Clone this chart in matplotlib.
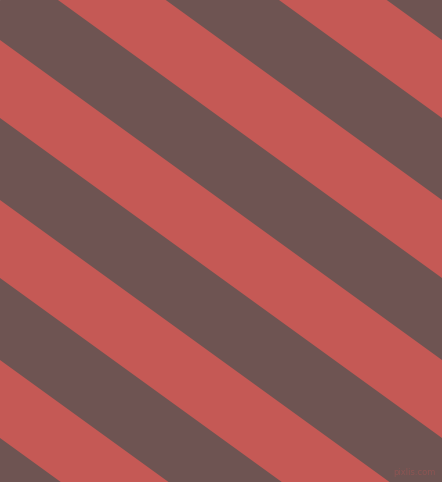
import numpy as np
import matplotlib
matplotlib.use("Agg")
import matplotlib.pyplot as plt

# stripe pattern, pixel coordinates (y down)
W = 442
H = 482
slope = 0.724            # dy/dx of the stripe edges
period = 160             # vertical repeat
red_start = [-280, -120, 40, 200, 360, 520]   # y at x=0 where each red band starts
red_width = 78                                 # vertical width of a red band
bg_color = '#6e5452'
stripe_color = '#c55955'

fig = plt.figure(figsize=(W / 100, H / 100), dpi=100)
ax = fig.add_axes([0, 0, 1, 1])
ax.set_xlim(0, W)
ax.set_ylim(H, 0)
ax.axis('off')
ax.add_patch(plt.Rectangle((0, 0), W, H, color=bg_color, zorder=0))

xs = np.array([-10, W + 10])
for c in red_start:
    top = c + slope * xs
    bot = c + red_width + slope * xs
    ax.fill(np.r_[xs, xs[::-1]], np.r_[top, bot[::-1]], color=stripe_color, lw=0, zorder=1)

ax.text(436, 477, 'pixlis.com', fontsize=6, color='#8c5553', ha='right', va='bottom', zorder=2)

fig.savefig('out.png', dpi=100)
